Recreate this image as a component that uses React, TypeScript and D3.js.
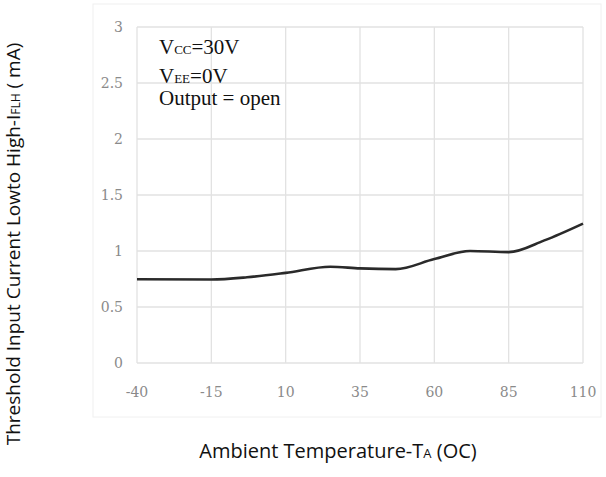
import React from "react";
import * as d3 from "d3";

const temps = [-40, -15, -3, 10, 25, 35, 47, 60, 72, 85, 97, 110];
const current = [0.748, 0.745, 0.765, 0.805, 0.86, 0.845, 0.838, 0.928, 1.0, 0.99, 1.095, 1.245];
const xTicks = [-40, -15, 10, 35, 60, 85, 110];
const yTicks = [0, 0.5, 1, 1.5, 2, 2.5, 3];

const W = 606;
const H = 477;
const M = { left: 137, right: 583, top: 27, bottom: 363 };

export default function App() {
  const x = d3.scaleLinear().domain([-40, 110]).range([M.left, M.right]);
  const y = d3.scaleLinear().domain([0, 3]).range([M.bottom, M.top]);
  const line = d3
    .line<number>()
    .x((_, i) => x(temps[i]))
    .y((d) => y(d))
    .curve(d3.curveMonotoneX);
  const serif = "'Liberation Serif', 'Times New Roman', serif";
  const tickFont = "'DejaVu Serif', serif";
  const sans = "'Open Sans', 'Noto Sans', sans-serif";
  return (
    <svg
      width={W}
      height={H}
      style={{ position: "absolute", left: 0, top: 0, background: "#fff" }}
    >
      <rect x={93} y={4} width={508} height={413} fill="none" stroke="#f0f0f0" />
      {yTicks.map((t) => (
        <g key={"y" + t}>
          <line x1={M.left} x2={M.right} y1={y(t)} y2={y(t)} stroke="#e2e2e2" strokeWidth={1.3} />
          <text x={123} y={y(t)} dy="0.35em" textAnchor="end" fontFamily={tickFont} fontSize={14} fill="#8a8a8a">
            {t}
          </text>
        </g>
      ))}
      {xTicks.map((t) => (
        <g key={"x" + t}>
          <line x1={x(t)} x2={x(t)} y1={M.top} y2={M.bottom} stroke="#e2e2e2" strokeWidth={1.3} />
          <text x={x(t)} y={392} dy="0.35em" textAnchor="middle" fontFamily={tickFont} fontSize={14} fill="#8a8a8a">
            {t}
          </text>
        </g>
      ))}
      <path d={line(current) || ""} fill="none" stroke="#2a2a2a" strokeWidth={2.6} />
      <g fontFamily={serif} fill="#111" fontSize={21}>
        <text x={159} y={54}>
          V<tspan fontSize={13}>CC</tspan>=30V
        </text>
        <text x={159} y={83}>
          V<tspan fontSize={13}>EE</tspan>=0V
        </text>
        <text x={159} y={105}>Output = open</text>
      </g>
      <text x={338} y={458} textAnchor="middle" fontFamily={sans} fontSize={20} fill="#111">
        Ambient Temperature-T<tspan fontSize={13}>A</tspan> (OC)
      </text>
      <text
        transform="translate(20,244) rotate(-90)"
        textAnchor="middle"
        fontFamily={sans}
        fontSize={19}
        fill="#111"
      >
        Threshold Input Current Lowto High-I<tspan fontSize={12}>FLH</tspan> ( mA)
      </text>
    </svg>
  );
}
